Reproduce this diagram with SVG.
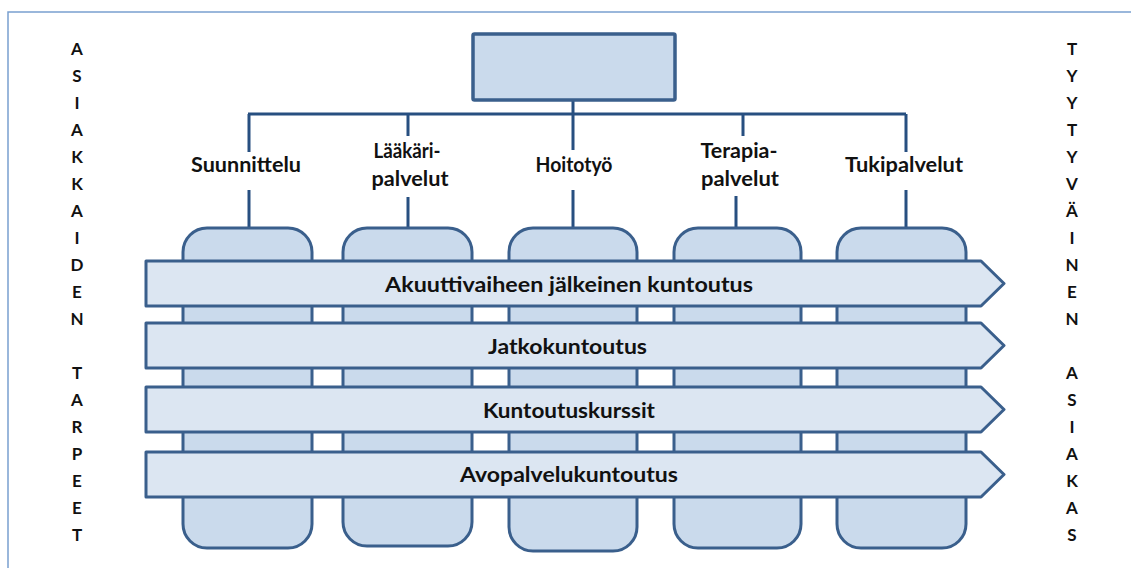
<svg xmlns="http://www.w3.org/2000/svg" width="1131" height="568" viewBox="0 0 1131 568">
<style>
.frame{fill:none;stroke:#7aa0d0;stroke-width:1.5}
.col{fill:#cadaec;stroke:#3a5f8c;stroke-width:3}
.band{fill:#dce6f2;stroke:#3a5f8c;stroke-width:3;stroke-linejoin:round}
.top{fill:#cadaec;stroke:#3a5f8c;stroke-width:3.5}
.conn{fill:none;stroke:#274f80;stroke-width:3}
.lbl{font-family:Lato,"Liberation Sans",sans-serif;font-weight:bold;font-size:20px;fill:#111;text-anchor:middle}
.btxt{font-family:Lato,"Liberation Sans",sans-serif;font-weight:bold;font-size:21px;fill:#111;text-anchor:middle}
.vl{font-family:Lato,"Liberation Sans",sans-serif;font-weight:bold;font-size:17px;fill:#111;text-anchor:middle}
</style>
<rect width="1131" height="568" fill="#fff"/>
<path class="frame" d="M8,568 V12 H1131"/>

<g id="connectors">
<path class="conn" d="M573,100 V150 M573,190 V228"/>
<path class="conn" d="M248,114 H906"/>
<path class="conn" d="M249,114 V152 M249,190 V228"/>
<path class="conn" d="M408,114 V136 M408,197 V228"/>
<path class="conn" d="M743,114 V136 M736,196 V228"/>
<path class="conn" d="M906,114 V152 M906,190 V228"/>
</g>

<g id="top-box">
<rect class="top" x="473" y="34" width="202" height="66" rx="1.5"/>
</g>

<g id="label-suunnittelu"><text class="lbl" x="246" y="172" textLength="110" lengthAdjust="spacingAndGlyphs">Suunnittelu</text></g>
<g id="label-laakaripalvelut"><text class="lbl" x="407" y="158" textLength="67" lengthAdjust="spacingAndGlyphs">Lääkäri-</text><text class="lbl" x="410" y="186" textLength="77" lengthAdjust="spacingAndGlyphs">palvelut</text></g>
<g id="label-hoitotyo"><text class="lbl" x="574" y="172" textLength="77" lengthAdjust="spacingAndGlyphs">Hoitotyö</text></g>
<g id="label-terapiapalvelut"><text class="lbl" x="739" y="158" textLength="77" lengthAdjust="spacingAndGlyphs">Terapia-</text><text class="lbl" x="740" y="186" textLength="78" lengthAdjust="spacingAndGlyphs">palvelut</text></g>
<g id="label-tukipalvelut"><text class="lbl" x="904" y="172" textLength="118" lengthAdjust="spacingAndGlyphs">Tukipalvelut</text></g>

<g id="columns">
<rect id="col1" class="col" x="183" y="228" width="129" height="320" rx="24"/>
<rect id="col2" class="col" x="343" y="228" width="129" height="318" rx="24"/>
<rect id="col3" class="col" x="509" y="228" width="128" height="323" rx="24"/>
<rect id="col4" class="col" x="674" y="228" width="127" height="320" rx="24"/>
<rect id="col5" class="col" x="837" y="228" width="129" height="320" rx="24"/>
</g>

<g id="band1">
<polygon class="band" points="146,261 981,261 1004,283.5 981,306 146,306"/>
<text class="btxt" x="569" y="292" textLength="368" lengthAdjust="spacingAndGlyphs">Akuuttivaiheen jälkeinen kuntoutus</text>
</g>
<g id="band2">
<polygon class="band" points="146,323 981,323 1004,345.5 981,368 146,368"/>
<text class="btxt" x="567.5" y="354" textLength="159" lengthAdjust="spacingAndGlyphs">Jatkokuntoutus</text>
</g>
<g id="band3">
<polygon class="band" points="146,387 981,387 1004,409.5 981,432 146,432"/>
<text class="btxt" x="569" y="418" textLength="172" lengthAdjust="spacingAndGlyphs">Kuntoutuskurssit</text>
</g>
<g id="band4">
<polygon class="band" points="146,452 981,452 1004,474.5 981,497 146,497"/>
<text class="btxt" x="569" y="482" textLength="218" lengthAdjust="spacingAndGlyphs">Avopalvelukuntoutus</text>
</g>

<g id="left-text">
<text class="vl" x="77" y="55">A</text>
<text class="vl" x="77" y="82">S</text>
<text class="vl" x="77" y="109">I</text>
<text class="vl" x="77" y="136">A</text>
<text class="vl" x="77" y="163">K</text>
<text class="vl" x="77" y="190">K</text>
<text class="vl" x="77" y="217">A</text>
<text class="vl" x="77" y="244">I</text>
<text class="vl" x="77" y="271">D</text>
<text class="vl" x="77" y="298">E</text>
<text class="vl" x="77" y="325">N</text>
<text class="vl" x="77" y="379">T</text>
<text class="vl" x="77" y="406">A</text>
<text class="vl" x="77" y="433">R</text>
<text class="vl" x="77" y="460">P</text>
<text class="vl" x="77" y="487">E</text>
<text class="vl" x="77" y="514">E</text>
<text class="vl" x="77" y="541">T</text>
</g>

<g id="right-text">
<text class="vl" x="1072" y="55">T</text>
<text class="vl" x="1072" y="82">Y</text>
<text class="vl" x="1072" y="109">Y</text>
<text class="vl" x="1072" y="136">T</text>
<text class="vl" x="1072" y="163">Y</text>
<text class="vl" x="1072" y="190">V</text>
<text class="vl" x="1072" y="217">Ä</text>
<text class="vl" x="1072" y="244">I</text>
<text class="vl" x="1072" y="271">N</text>
<text class="vl" x="1072" y="298">E</text>
<text class="vl" x="1072" y="325">N</text>
<text class="vl" x="1072" y="379">A</text>
<text class="vl" x="1072" y="406">S</text>
<text class="vl" x="1072" y="433">I</text>
<text class="vl" x="1072" y="460">A</text>
<text class="vl" x="1072" y="487">K</text>
<text class="vl" x="1072" y="514">A</text>
<text class="vl" x="1072" y="541">S</text>
</g>
</svg>
